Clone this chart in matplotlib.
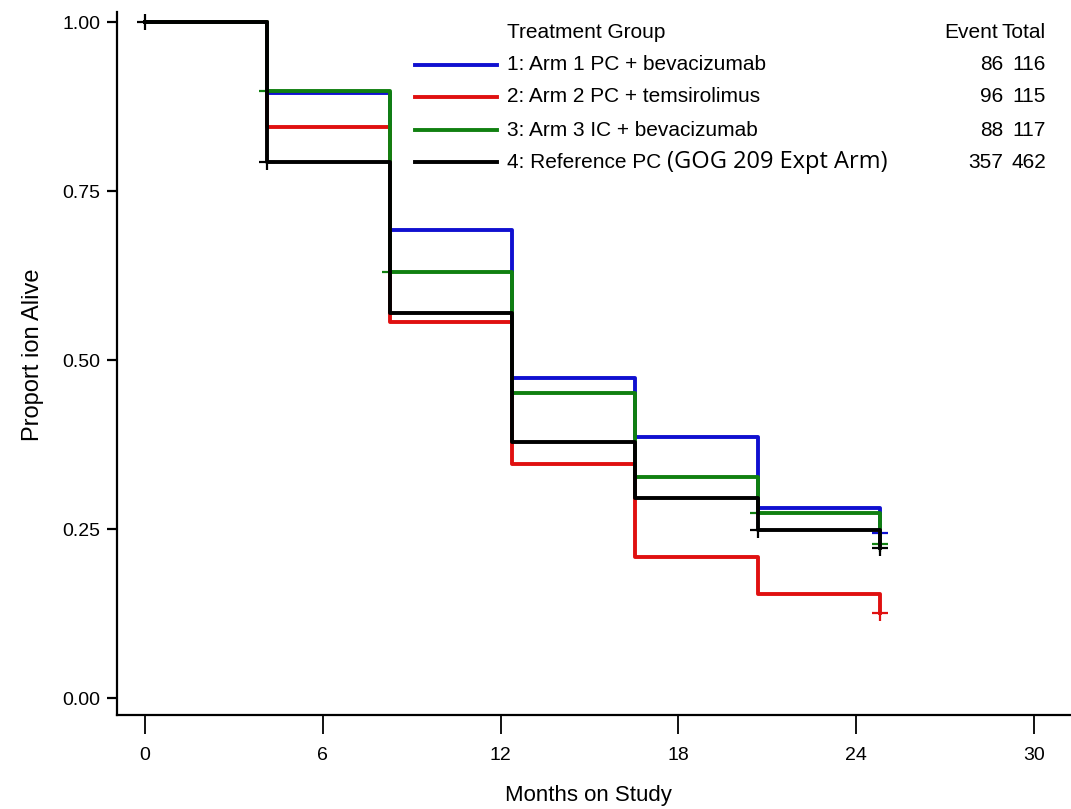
import matplotlib.pyplot as plt
from matplotlib.lines import Line2D

# step times (months) and survival estimates per group
times = [0, 4.13, 8.27, 12.4, 16.55, 20.7, 24.8]
arm1 = [1.0, 0.895, 0.692, 0.473, 0.386, 0.281, 0.244]
arm2 = [1.0, 0.845, 0.556, 0.346, 0.209, 0.154, 0.126]
arm3 = [1.0, 0.898, 0.630, 0.451, 0.327, 0.274, 0.228]
ref = [1.0, 0.793, 0.570, 0.379, 0.296, 0.249, 0.222]

# censor marks
cens_t = {"arm1": [24.8], "arm2": [24.8], "arm3": [4.13, 8.27, 20.7, 24.8],
          "ref": [0, 4.13, 20.7, 24.8]}
cens_s = {"arm1": [0.244], "arm2": [0.126], "arm3": [0.898, 0.630, 0.274, 0.228],
          "ref": [1.0, 0.793, 0.249, 0.222]}

labels = ["1: Arm 1 PC + bevacizumab", "2: Arm 2 PC + temsirolimus",
          "3: Arm 3 IC + bevacizumab", "4: Reference PC"]
events = [86, 96, 88, 357]
totals = [116, 115, 117, 462]
colors = ["#1010d0", "#e01010", "#108010", "#000000"]

plt.rcParams["font.family"] = ["Liberation Sans", "DejaVu Sans"]

fig = plt.figure(figsize=(10.71, 8.09), dpi=100)
ax = fig.add_axes([117 / 1071, 94 / 809, 1 - 117 / 1071, (715 - 12) / 809])

keys = ["arm1", "arm2", "arm3", "ref"]
for i, (k, s) in enumerate(zip(keys, [arm1, arm2, arm3, ref])):
    ax.step(times, s, where="post", color=colors[i], lw=2.8, zorder=2 + i)
    ax.plot(cens_t[k], cens_s[k], ls="none", marker="+", ms=11, mew=1.6,
            color=colors[i], zorder=2 + i)

ax.set_xlim(-0.945, 31.25)
ax.set_ylim(-0.025, 1.015)
ax.set_xticks([0, 6, 12, 18, 24, 30])
ax.set_yticks([0, 0.25, 0.5, 0.75, 1.0])
ax.set_yticklabels(["0.00", "0.25", "0.50", "0.75", "1.00"])
ax.spines["top"].set_visible(False)
ax.spines["right"].set_visible(False)
for sp in ["left", "bottom"]:
    ax.spines[sp].set_linewidth(1.6)
ax.tick_params(axis="y", length=7, width=1.6, pad=5, labelsize=14)
ax.tick_params(axis="x", length=14, width=1.3, pad=9, labelsize=14)

fig.text(33 / 1071, 1 - 355 / 809, "Proport ion Alive", rotation=90,
         ha="center", va="center", fontsize=17)
fig.text(588 / 1071, 1 - 795 / 809, "Months on Study", ha="center",
         va="center", fontsize=16)

# legend table
fs = 15
fig.text(507 / 1071, 1 - 33 / 809, "Treatment Group", ha="left", va="center", fontsize=fs)
fig.text(998 / 1071, 1 - 33 / 809, "Event", ha="right", va="center", fontsize=fs)
fig.text(1046 / 1071, 1 - 33 / 809, "Total", ha="right", va="center", fontsize=fs)
rows_y = [65, 97, 130, 162]
last = None
for i, y in enumerate(rows_y):
    fy = 1 - y / 809
    fig.add_artist(Line2D([415 / 1071, 497 / 1071], [fy, fy], color=colors[i], lw=2.8))
    last = fig.text(507 / 1071, fy, labels[i], ha="left", va="center", fontsize=fs)
    fig.text(1003 / 1071, fy, str(events[i]), ha="right", va="center", fontsize=fs)
    fig.text(1046 / 1071, fy, str(totals[i]), ha="right", va="center", fontsize=fs)

fig.canvas.draw()
bb = last.get_window_extent()
x_paren = (bb.x1 + 6) / fig.bbox.width
fig.text(x_paren, 1 - 162 / 809, "(GOG 209 Expt Arm)", ha="left", va="center",
         fontsize=17, family=["Open Sans", "DejaVu Sans"])

fig.savefig("out.png", dpi=100)
